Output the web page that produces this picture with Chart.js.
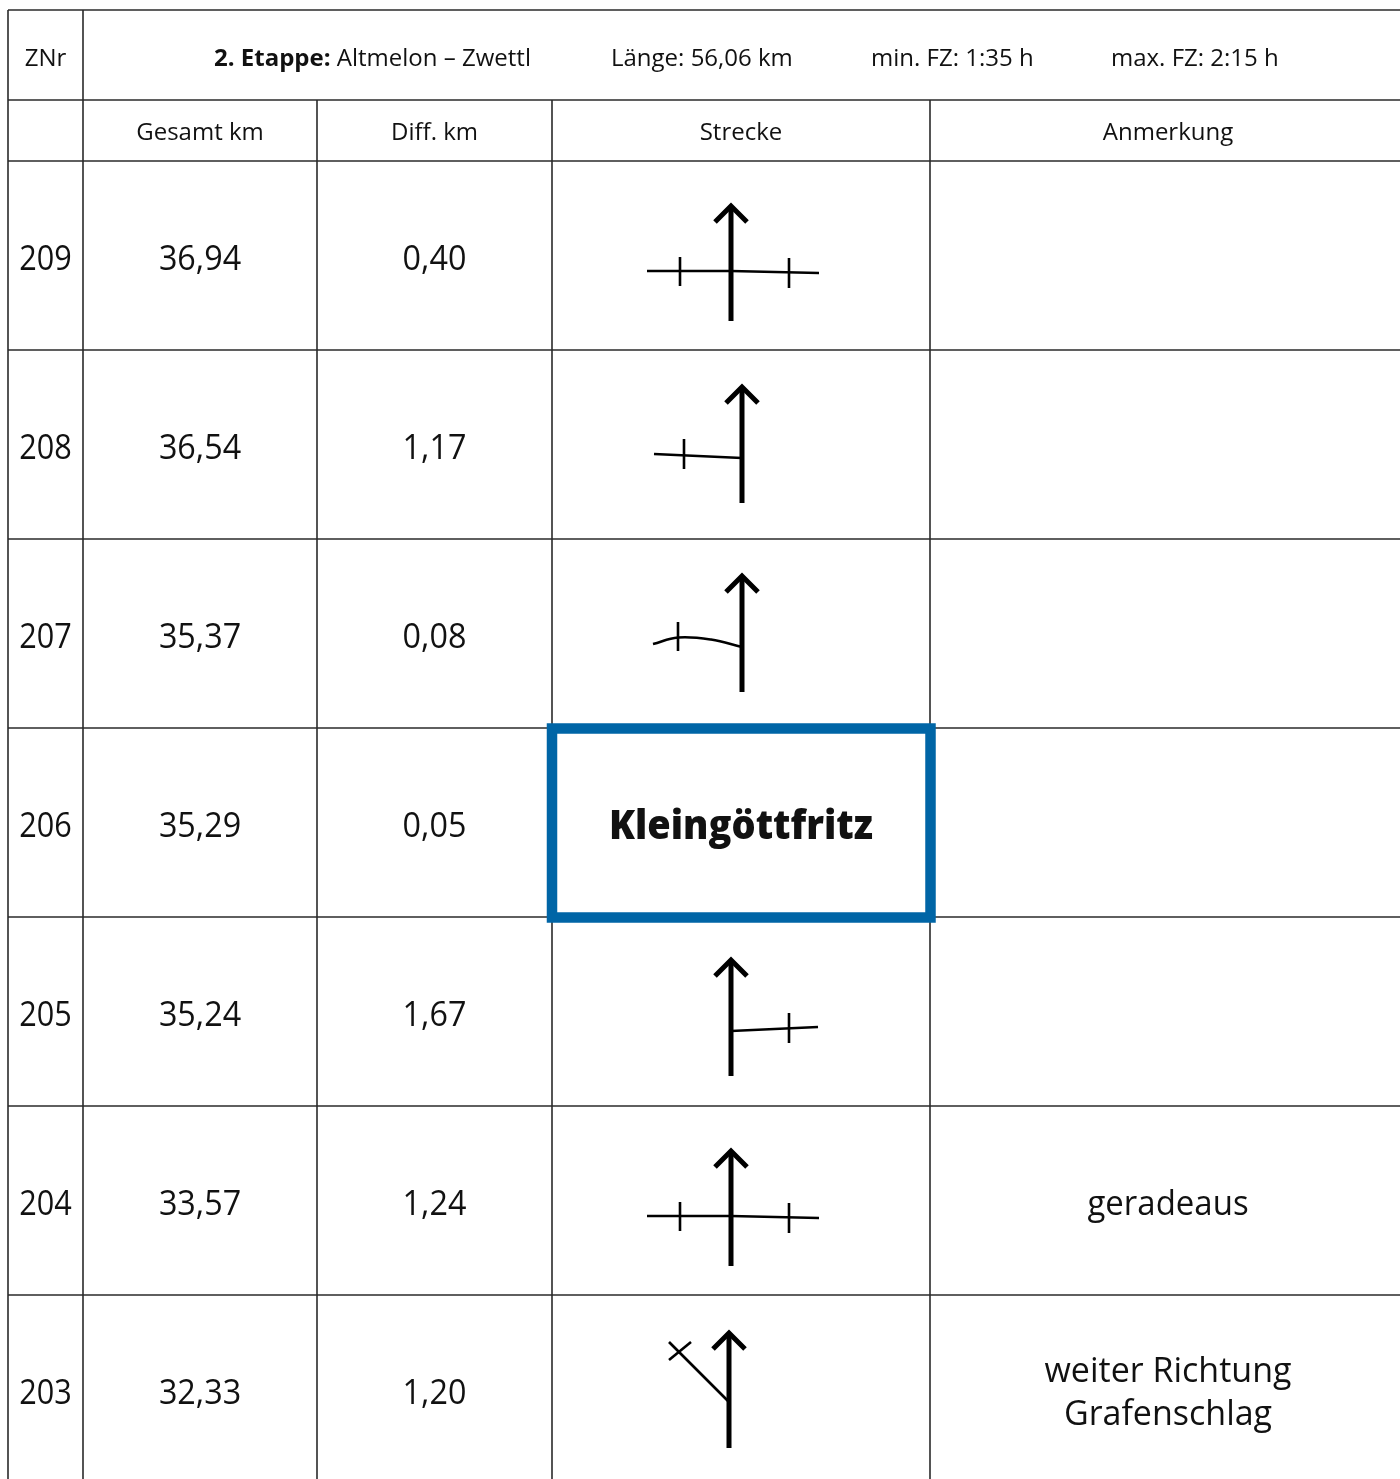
<!DOCTYPE html>
<html>
<head>
<meta charset="utf-8">
<script src="https://cdn.jsdelivr.net/npm/chart.js@4.4.1/dist/chart.umd.min.js"></script>
<style>
  html, body { margin: 0; padding: 0; background: #ffffff; overflow: hidden; }
  #wrap { width: 1400px; height: 1479px; }
</style>
</head>
<body>
<div id="wrap"><canvas id="c" width="1400" height="1479"></canvas></div>
<script>
// ---------------- DATA ----------------
const zNr       = [209, 208, 207, 206, 205, 204, 203];
const gesamtKm  = ['36,94', '36,54', '35,37', '35,29', '35,24', '33,57', '32,33'];
const diffKm    = ['0,40', '1,17', '0,08', '0,05', '1,67', '1,24', '1,20'];
const strecke   = ['kreuzung', 'links', 'linksBogen', 'ortstafel', 'rechts', 'kreuzung', 'linksSchraeg'];
const ortsname  = ['', '', '', 'Kleingöttfritz', '', '', ''];
const anmerkung = ['', '', '', '', '', 'geradeaus', 'weiter Richtung\nGrafenschlag'];
const kopfZNr   = 'ZNr';
const etappeNr  = '2. Etappe:';
const etappeName = 'Altmelon – Zwettl';
const etappeInfo = ['Länge: 56,06 km', 'min. FZ: 1:35 h', 'max. FZ: 2:15 h'];
const spaltenKoepfe = ['Gesamt km', 'Diff. km', 'Strecke', 'Anmerkung'];

// ---------------- LAYOUT / STYLE ----------------
const W = 1400, H = 1479;
const COLS = [8, 83, 317, 552, 930, 1406];
const HEAD = [10, 100, 161];
const ROW_H = 189;
const INFO_X = [214, 611, 871, 1111];
const FONT = '"Open Sans", "Noto Sans", sans-serif';
const LINE_COL = '#2a2a2a';
const BLUE = '#0065a6';

function rowTop(i) { return HEAD[2] + i * ROW_H; }
function colMid(c) { return (COLS[c] + COLS[c + 1]) / 2; }

// Pictogram geometry per junction type (offsets in scale units from cell centre / row top)
function pictogram(type) {
  const s = [];
  const arrow = (ax, tip, base) => {
    s.push({ p: [[ax, tip], [ax, base]], w: 5 });
    s.push({ p: [[ax - 16, tip + 16], [ax, tip], [ax + 16, tip + 16]], w: 5 });
  };
  const thin = (pts, t) => s.push({ p: pts, w: 2.6, t: t || 0 });
  if (type === 'kreuzung') {
    arrow(-10, 45, 160);
    thin([[-94, 110], [-10, 110]]);
    thin([[-10, 110], [78, 112]]);
    thin([[-61, 96], [-61, 125]]);
    thin([[48, 97], [48, 127]]);
  } else if (type === 'links') {
    arrow(1, 37, 153);
    thin([[-87, 104], [1, 108]]);
    thin([[-57, 89], [-57, 119]]);
  } else if (type === 'linksBogen') {
    arrow(1, 37, 153);
    thin([[-88, 105], [-63, 98.5], [-30, 100.5], [1, 108]], 0.4);
    thin([[-63, 83], [-63, 112]]);
  } else if (type === 'rechts') {
    arrow(-10, 43, 159);
    thin([[-10, 114], [77, 110]]);
    thin([[48, 96], [48, 126]]);
  } else if (type === 'linksSchraeg') {
    arrow(-12, 38, 153);
    thin([[-12, 107], [-72, 47]]);
    thin([[-72, 65], [-50, 47]]);
  }
  return s;
}

// Build datasets from the pictograms
const datasets = [];
strecke.forEach((type, i) => {
  const cx = colMid(3), top = rowTop(i);
  pictogram(type).forEach(st => {
    datasets.push({
      data: st.p.map(q => ({ x: cx + q[0], y: top + q[1] })),
      showLine: true,
      borderColor: '#000000',
      backgroundColor: '#000000',
      borderWidth: st.w,
      pointRadius: 0,
      pointHoverRadius: 0,
      tension: st.t,
      borderCapStyle: 'butt',
      borderJoinStyle: 'miter',
      fill: false
    });
  });
});

function drawText(ctx, s, x, y, font, align, sx) {
  ctx.save();
  ctx.font = font;
  ctx.textAlign = align;
  ctx.textBaseline = 'alphabetic';
  ctx.fillStyle = '#111111';
  ctx.translate(x, y);
  ctx.scale(sx, 1);
  ctx.fillText(s, 0, 0);
  ctx.restore();
}

const tablePlugin = {
  id: 'tabelle',
  beforeDraw(chart) {
    const ctx = chart.ctx;
    ctx.save();
    ctx.fillStyle = '#ffffff';
    ctx.fillRect(0, 0, W, H);
    ctx.restore();
  },
  beforeDatasetsDraw(chart) {
    const ctx = chart.ctx;
    const X = v => chart.scales.x.getPixelForValue(v);
    const Y = v => chart.scales.y.getPixelForValue(v);
    ctx.save();
    ctx.strokeStyle = LINE_COL;
    ctx.lineWidth = 1.6;
    const hl = (y, x0, x1) => { ctx.beginPath(); ctx.moveTo(X(x0), Y(y)); ctx.lineTo(X(x1), Y(y)); ctx.stroke(); };
    const vl = (x, y0, y1) => { ctx.beginPath(); ctx.moveTo(X(x), Y(y0)); ctx.lineTo(X(x), Y(y1)); ctx.stroke(); };
    hl(HEAD[0], COLS[0], COLS[5]);
    hl(HEAD[1], COLS[0], COLS[5]);
    for (let i = 0; i <= zNr.length; i++) hl(rowTop(i), COLS[0], COLS[5]);
    vl(COLS[0], HEAD[0], H);
    vl(COLS[1], HEAD[0], H);
    vl(COLS[2], HEAD[1], H);
    vl(COLS[3], HEAD[1], H);
    vl(COLS[4], HEAD[1], H);
    vl(COLS[5], HEAD[0], H);
    ctx.restore();

    // header row 1
    const hf = '24px ' + FONT, hb = 'bold 24px ' + FONT, hs = 1.0;
    drawText(ctx, kopfZNr, X(colMid(0)), Y(66), hf, 'center', hs);
    ctx.save(); ctx.font = hb; const wNr = ctx.measureText(etappeNr + ' ').width * hs; ctx.restore();
    drawText(ctx, etappeNr, X(INFO_X[0]), Y(66), hb, 'left', hs);
    drawText(ctx, etappeName, X(INFO_X[0]) + wNr, Y(66), hf, 'left', hs);
    etappeInfo.forEach((t, k) => drawText(ctx, t, X(INFO_X[k + 1]), Y(66), hf, 'left', hs));
    // header row 2
    spaltenKoepfe.forEach((t, k) => drawText(ctx, t, X(colMid(k + 1)), Y(140), hf, 'center', hs));

    // data rows
    const nf = '34px ' + FONT;
    zNr.forEach((z, i) => {
      const top = rowTop(i);
      drawText(ctx, String(z), X(colMid(0)), Y(top + 109), nf, 'center', 0.9);
      drawText(ctx, gesamtKm[i], X(colMid(1)), Y(top + 109), nf, 'center', 0.95);
      drawText(ctx, diffKm[i], X(colMid(2)), Y(top + 109), nf, 'center', 0.95);
      const lines = anmerkung[i] ? anmerkung[i].split('\n') : [];
      const ax = X(1168);
      if (lines.length === 1) {
        drawText(ctx, lines[0], ax, Y(top + 109), nf, 'center', 0.97);
      } else if (lines.length === 2) {
        drawText(ctx, lines[0], ax, Y(top + 87), nf, 'center', 1.0);
        drawText(ctx, lines[1], ax, Y(top + 130), nf, 'center', 1.0);
      }
    });
  },
  afterDatasetsDraw(chart) {
    const ctx = chart.ctx;
    const X = v => chart.scales.x.getPixelForValue(v);
    const Y = v => chart.scales.y.getPixelForValue(v);
    strecke.forEach((type, i) => {
      if (type !== 'ortstafel') return;
      const top = rowTop(i);
      ctx.save();
      ctx.fillStyle = '#ffffff';
      ctx.fillRect(X(COLS[3]), Y(top), X(COLS[4]) - X(COLS[3]), Y(top + ROW_H) - Y(top));
      ctx.strokeStyle = BLUE;
      ctx.lineWidth = 10.5;
      ctx.lineJoin = 'miter';
      ctx.strokeRect(X(COLS[3]), Y(top + 0.5), X(COLS[4] + 0.5) - X(COLS[3]), Y(top + ROW_H + 0.5) - Y(top + 0.5));
      ctx.restore();
      const f = '800 41px ' + FONT;
      ctx.save(); ctx.font = f; const mw = ctx.measureText(ortsname[i]).width; ctx.restore();
      drawText(ctx, ortsname[i], X(colMid(3)), Y(top + 111), f, 'center', Math.min(1, 264 / mw));
    });
  }
};

new Chart(document.getElementById('c'), {
  type: 'scatter',
  data: { datasets },
  options: {
    responsive: false,
    animation: false,
    events: [],
    layout: { padding: 0 },
    scales: {
      x: { type: 'linear', min: 0, max: W, display: false },
      y: { type: 'linear', min: 0, max: H, reverse: true, display: false }
    },
    plugins: { legend: { display: false }, tooltip: { enabled: false }, title: { display: false } },
    elements: { point: { radius: 0 } }
  },
  plugins: [tablePlugin]
});
</script>
</body>
</html>
